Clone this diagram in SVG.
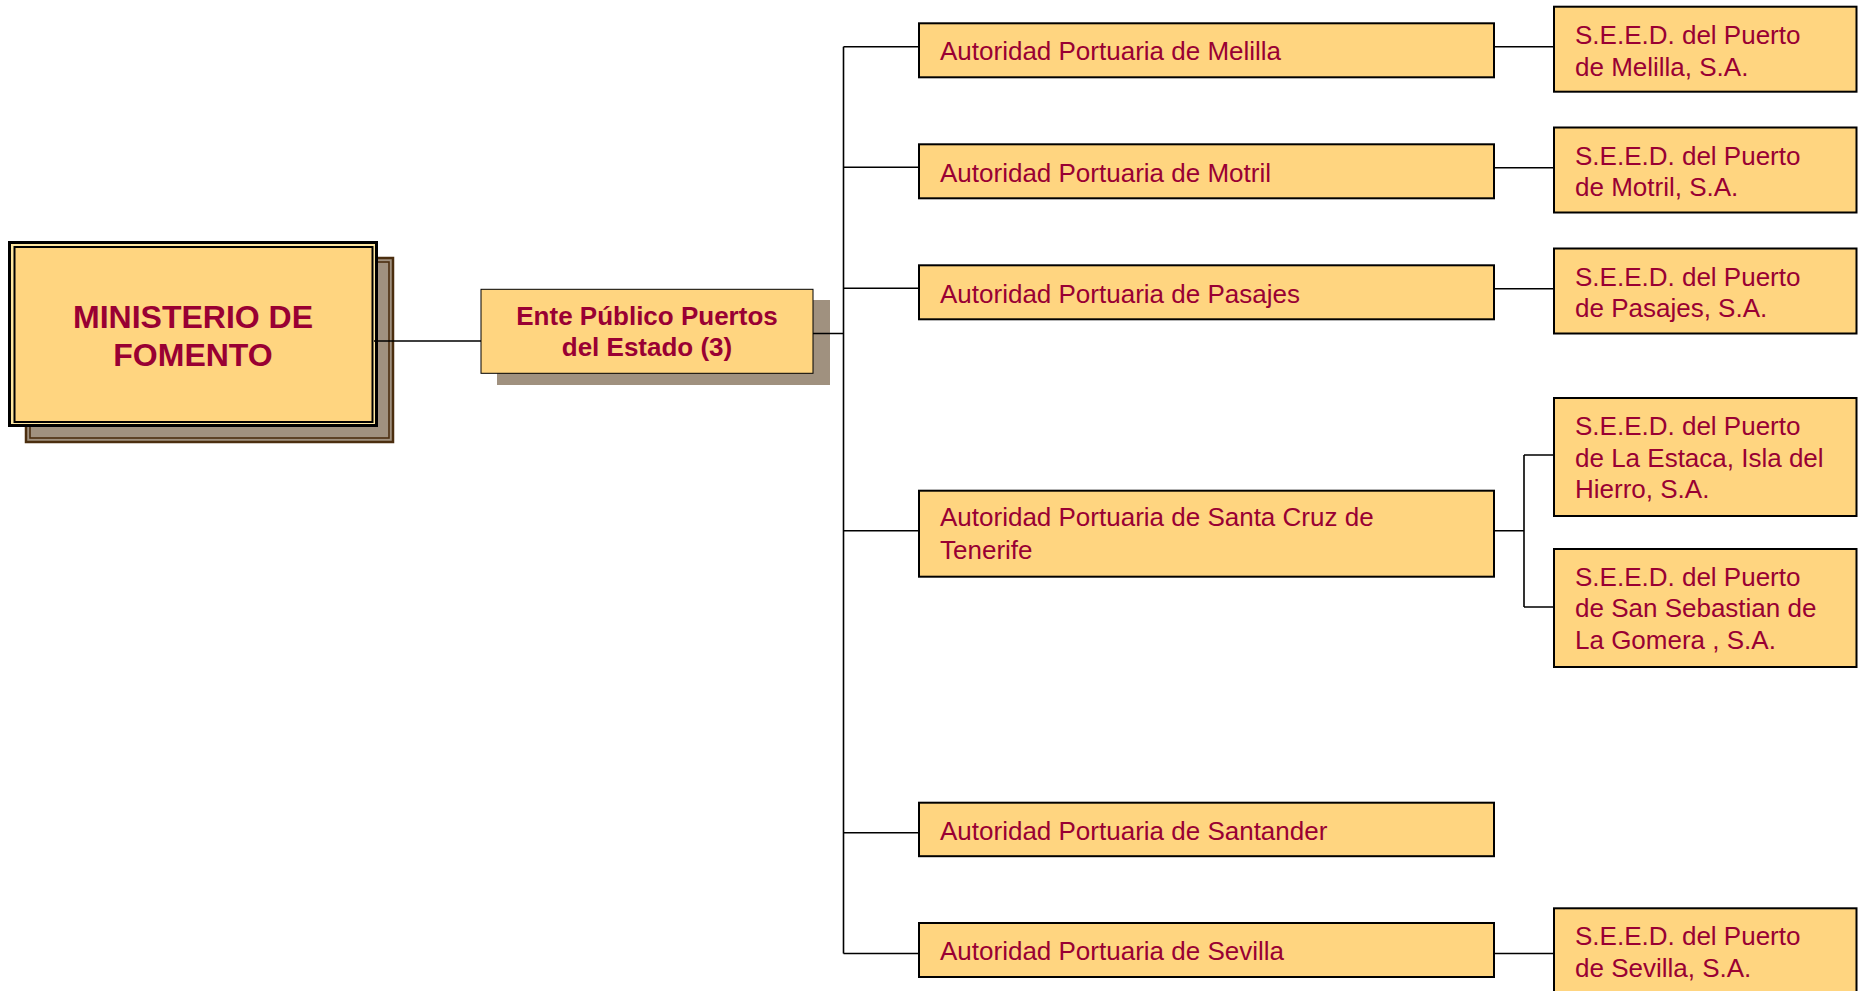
<svg xmlns="http://www.w3.org/2000/svg" width="1859" height="991" viewBox="0 0 1859 991">
<style>
.box{fill:#FFD580;stroke:#000;stroke-width:2}
.t{font-family:"Liberation Sans",Arial,sans-serif;font-size:26px;fill:#990033}
.b{font-weight:bold}
.c{fill:none;stroke:#000;stroke-width:1.6}
</style>
<rect width="1859" height="991" fill="#fff"/>
<g id="ministerio">
<rect x="26" y="258" width="367" height="184" fill="#A0917F" stroke="#4B2E0F" stroke-width="2.5"/>
<rect x="30" y="262" width="359" height="176" fill="none" stroke="#4B2E0F" stroke-width="1.6"/>
<rect x="9.5" y="242.5" width="367" height="183" fill="#FFE7A0" stroke="#000" stroke-width="3"/>
<rect x="14.5" y="247" width="358" height="175" fill="#FFD580" stroke="#000" stroke-width="2"/>
<text class="t b" x="193" y="328" text-anchor="middle" style="font-size:32px">MINISTERIO DE</text>
<text class="t b" x="193" y="366" text-anchor="middle" style="font-size:32px">FOMENTO</text>
</g>
<g id="ente">
<rect x="497" y="300" width="333" height="85" fill="#A0917F"/>
<rect x="481" y="289.3" width="332" height="84" fill="#FFD580" stroke="#000" stroke-width="1"/>
<text class="t b" x="647" y="325" text-anchor="middle">Ente Público Puertos</text>
<text class="t b" x="647" y="356" text-anchor="middle">del Estado (3)</text>
</g>
<g id="ap-melilla">
<rect class="box" x="919" y="23.3" width="575" height="54"/>
<text class="t" x="940" y="59.5">Autoridad Portuaria de Melilla</text>
</g>
<g id="ap-motril">
<rect class="box" x="919" y="144.3" width="575" height="54"/>
<text class="t" x="940" y="181.5">Autoridad Portuaria de Motril</text>
</g>
<g id="ap-pasajes">
<rect class="box" x="919" y="265.3" width="575" height="54"/>
<text class="t" x="940" y="302.5">Autoridad Portuaria de Pasajes</text>
</g>
<g id="ap-santacruz">
<rect class="box" x="919" y="490.7" width="575" height="86"/>
<text class="t" x="940" y="526">Autoridad Portuaria de Santa Cruz de</text>
<text class="t" x="940" y="559">Tenerife</text>
</g>
<g id="ap-santander">
<rect class="box" x="919" y="802.7" width="575" height="53.5"/>
<text class="t" x="940" y="839.5">Autoridad Portuaria de Santander</text>
</g>
<g id="ap-sevilla">
<rect class="box" x="919" y="923" width="575" height="54"/>
<text class="t" x="940" y="960">Autoridad Portuaria de Sevilla</text>
</g>
<g id="seed-melilla">
<rect class="box" x="1554" y="6.7" width="302.5" height="85"/>
<text class="t" x="1575" y="44">S.E.E.D. del Puerto</text>
<text class="t" x="1575" y="75.5">de Melilla, S.A.</text>
</g>
<g id="seed-motril">
<rect class="box" x="1554" y="127.5" width="302.5" height="85"/>
<text class="t" x="1575" y="164.5">S.E.E.D. del Puerto</text>
<text class="t" x="1575" y="196">de Motril, S.A.</text>
</g>
<g id="seed-pasajes">
<rect class="box" x="1554" y="248.5" width="302.5" height="85"/>
<text class="t" x="1575" y="285.5">S.E.E.D. del Puerto</text>
<text class="t" x="1575" y="317">de Pasajes, S.A.</text>
</g>
<g id="seed-laestaca">
<rect class="box" x="1554" y="398" width="302.5" height="118"/>
<text class="t" x="1575" y="435">S.E.E.D. del Puerto</text>
<text class="t" x="1575" y="466.5">de La Estaca, Isla del</text>
<text class="t" x="1575" y="498">Hierro, S.A.</text>
</g>
<g id="seed-sansebastian">
<rect class="box" x="1554" y="549" width="302.5" height="118"/>
<text class="t" x="1575" y="585.5">S.E.E.D. del Puerto</text>
<text class="t" x="1575" y="617">de San Sebastian de</text>
<text class="t" x="1575" y="648.5">La Gomera , S.A.</text>
</g>
<g id="seed-sevilla">
<rect class="box" x="1554" y="908.3" width="302.5" height="85"/>
<text class="t" x="1575" y="945">S.E.E.D. del Puerto</text>
<text class="t" x="1575" y="976.5">de Sevilla, S.A.</text>
</g>
<g id="connectors">
<path class="c" d="M374,341H481M813,333.5H843.5M843.5,46.7V953.5M843.5,46.7H919M843.5,167.3H919M843.5,288.3H919M843.5,530.7H919M843.5,832.7H919M843.5,953.5H919"/>
<path class="c" d="M1494,46.7H1554M1494,167.7H1554M1494,288.7H1554M1494,530.7H1524M1524,455V607M1524,455H1554M1524,607H1554M1494,953.5H1554"/>
</g>
</svg>
